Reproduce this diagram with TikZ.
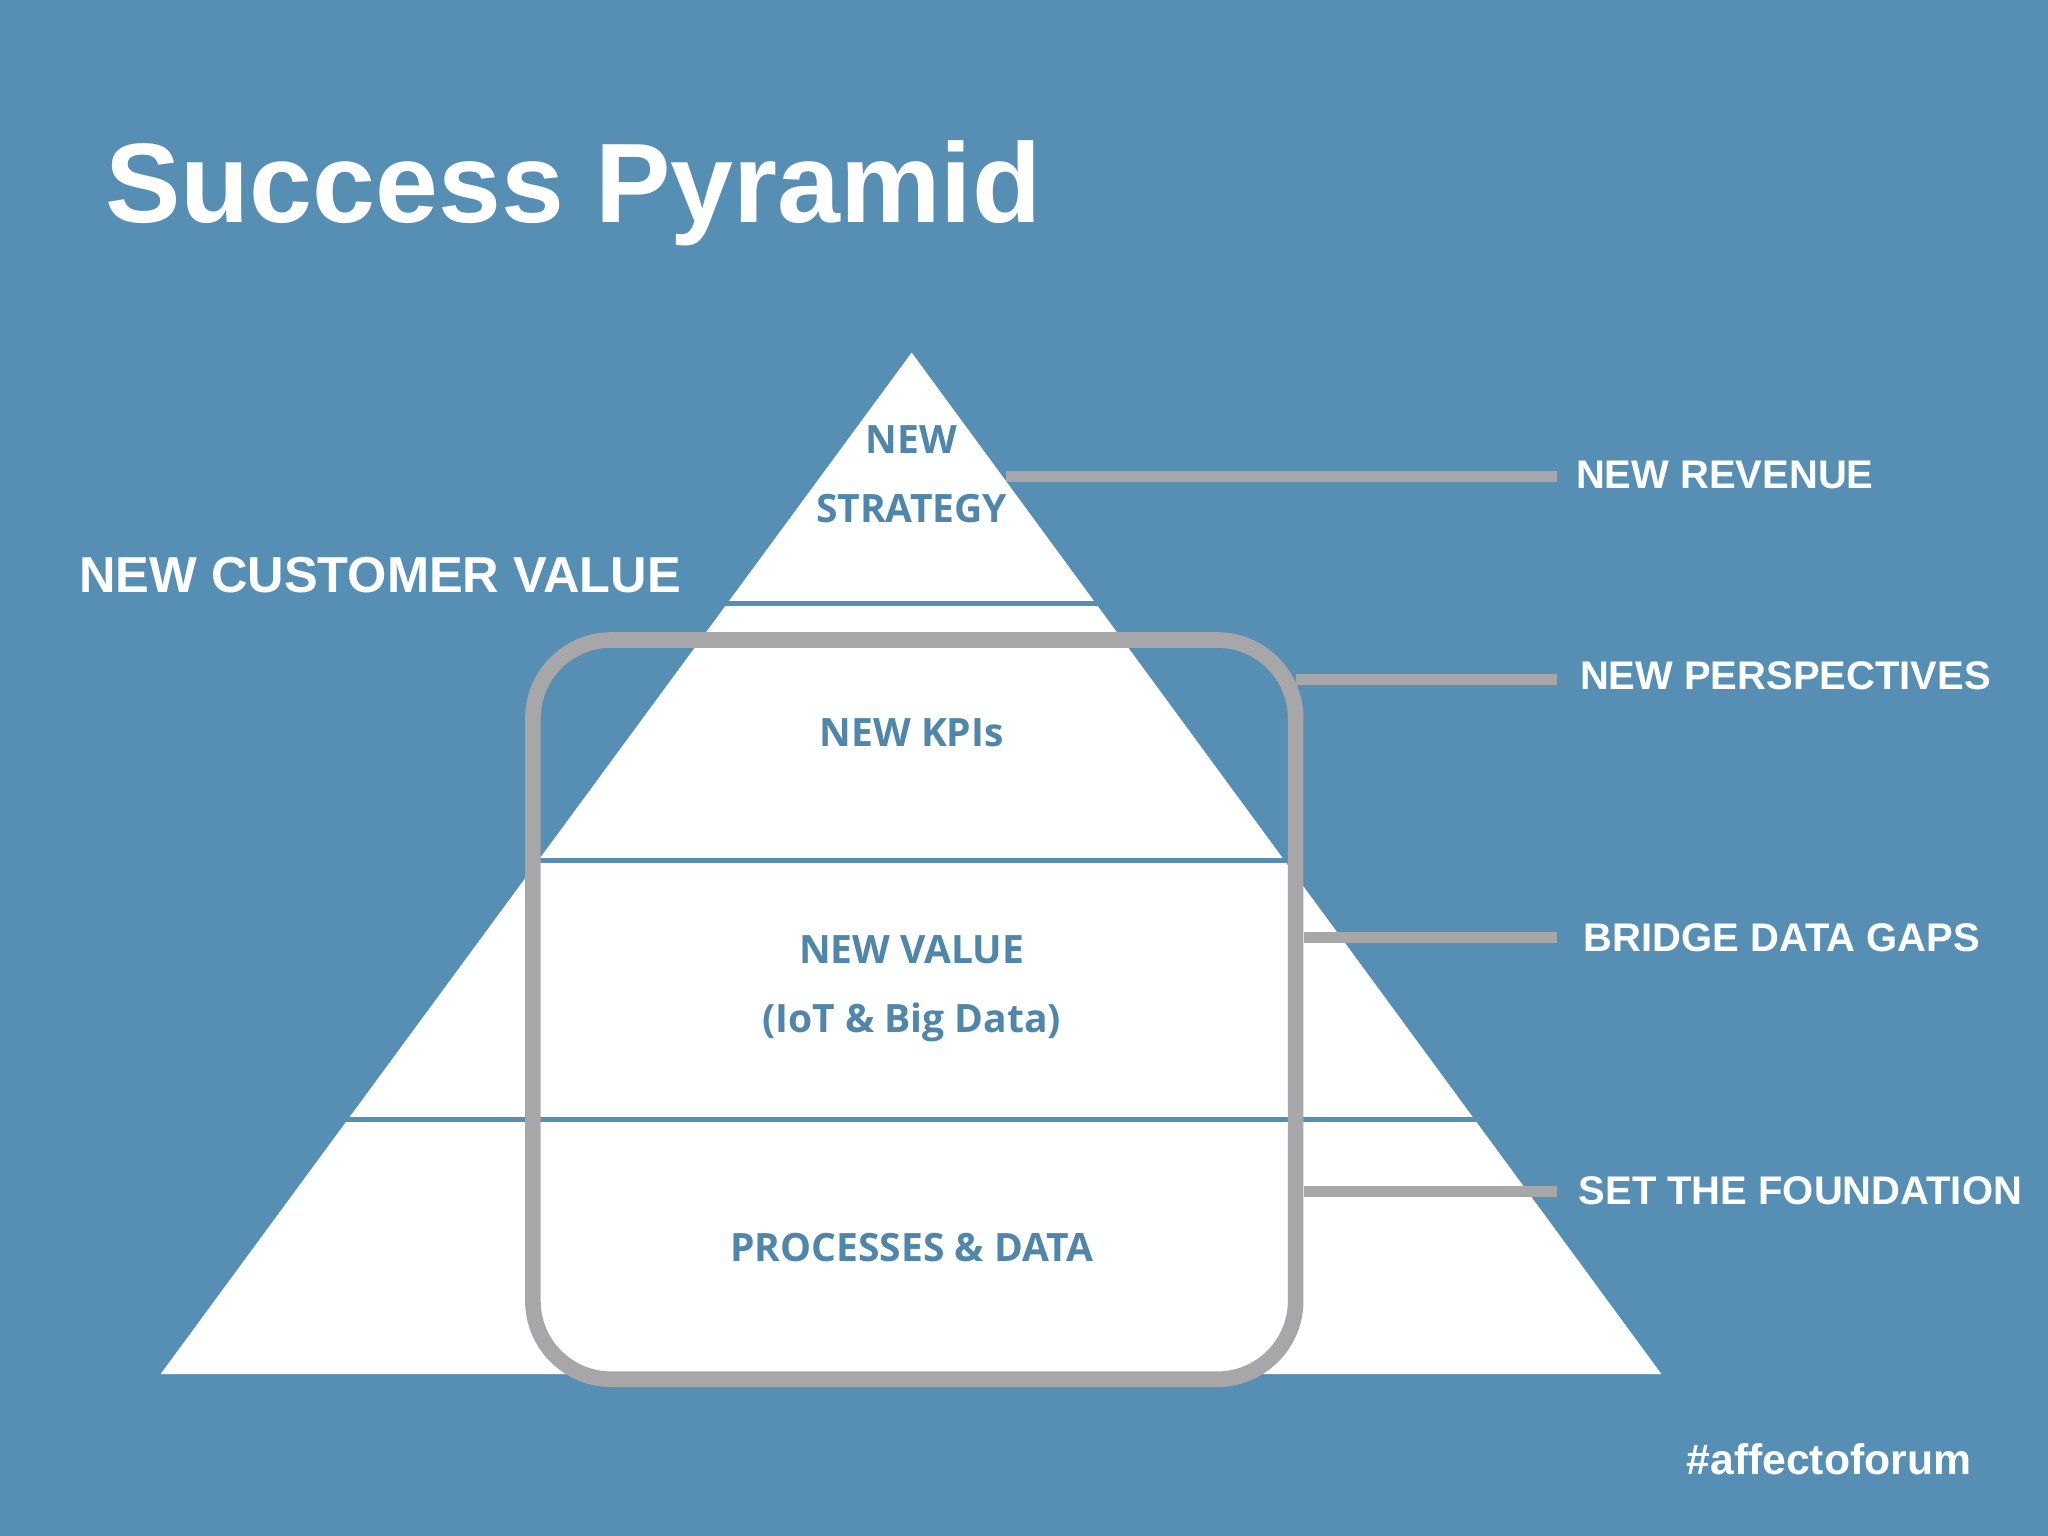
\documentclass[tikz,border=0pt]{standalone}
\usepackage{fontspec}
\setmainfont{Liberation Sans}
\newfontfamily\pyr{Open Sans}
\definecolor{bg}{HTML}{568FB3}
\definecolor{tx}{HTML}{4F86AA}
\definecolor{gr}{HTML}{A7A7A9}
\begin{document}
\begin{tikzpicture}[x=0.01cm,y=-0.01cm,
  lab/.style={text=white,font=\bfseries\fontsize{8.7}{10}\selectfont,anchor=west,inner sep=0},
  ptx/.style={text=tx,font=\pyr\bfseries\fontsize{8.5}{15}\selectfont,align=center,inner sep=0},
  conn/.style={gr,line width=2.4pt},
  sep/.style={bg,line width=1.2pt}]
\fill[bg] (0,0) rectangle (1568,1176);
\useasboundingbox (0,0) rectangle (1568,1176);
\node[anchor=west,text=white,font=\bfseries\fontsize{24.6}{28}\selectfont,inner sep=0] (title) at (80,148) {Success Pyramid};
\fill[white] (698,270) -- (1272,1052) -- (123,1052) -- cycle;
\draw[sep] (540,462) -- (856,462);
\draw[sep] (395,659) -- (1001,659);
\draw[sep] (250,857) -- (1146,857);
\draw[gr,line width=3.4pt,rounded corners=0.6cm] (408,490) rectangle (992,1056);
\node[ptx] (s) at (698,363) {NEW\\STRATEGY};
\node[ptx] (k) at (698,561) {NEW KPIs};
\node[ptx] (v) at (698,757) {NEW VALUE\\(IoT \& Big Data)};
\node[ptx] (p) at (698,955) {PROCESSES \& DATA};
\node[lab,font=\bfseries\fontsize{11}{13}\selectfont] (cv) at (60,440) {NEW CUSTOMER VALUE};
\node[lab] (r) at (1206,364) {NEW REVENUE};
\node[lab] (pe) at (1209,517) {NEW PERSPECTIVES};
\node[lab] (b) at (1212,718) {BRIDGE DATA GAPS};
\node[lab] (f) at (1208,912) {SET THE FOUNDATION};
\node[lab,anchor=east,font=\bfseries\fontsize{9.3}{11}\selectfont] (h) at (1510,1117) {\#affectoforum};
\coordinate (c1) at (770,365); \coordinate (c2) at (992,520);
\coordinate (c3) at (998,718); \coordinate (c4) at (998,912);
\draw[conn] (c1) -- (1192,365);
\draw[conn] (c2) -- (1192,520);
\draw[conn] (c3) -- (1192,718);
\draw[conn] (c4) -- (1192,912);
\end{tikzpicture}
\end{document}
